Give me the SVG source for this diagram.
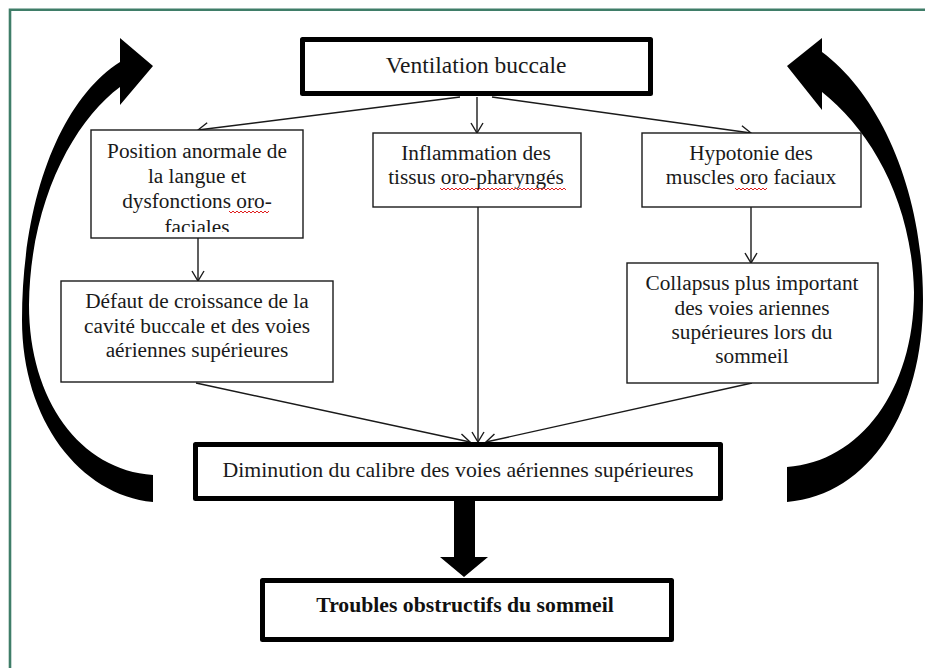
<svg xmlns="http://www.w3.org/2000/svg" width="925" height="668" viewBox="0 0 925 668">
<style>
.thin{fill:#fff;stroke:#1a1a1a;stroke-width:1.4}
.thick{fill:#fff;stroke:#000;stroke-width:5;stroke-linejoin:round}
.t{font-family:"Liberation Serif","Times New Roman",serif;font-size:21.3px;fill:#1a1a1a;text-anchor:middle}
.tb{font-family:"Liberation Serif","Times New Roman",serif;font-size:21.7px;font-weight:bold;fill:#111;text-anchor:middle}
.c{stroke:#1a1a1a;stroke-width:1.4;fill:none}
.sq{stroke:#e02020;stroke-width:1;fill:none}
</style>
<defs>
<marker id="v" markerWidth="12" markerHeight="14" refX="11" refY="7" orient="auto" markerUnits="userSpaceOnUse">
<path d="M1,1 L11,7 L1,13" fill="none" stroke="#1a1a1a" stroke-width="1.4"/>
</marker>
<clipPath id="clipPos"><rect x="92" y="131" width="210" height="101"/></clipPath>
</defs>
<rect width="925" height="668" fill="#fff"/>
<g id="frame" stroke="#3f7d68" stroke-width="2.6" fill="none">
<path d="M10,668 L10,9.7 L925,9.7"/>
</g>
<g id="cycle-arrows" fill="#000">
<path d="M153,502 C80,495 22,420 22,320 C22,200 60,100 120,62 L120,38 L153,66 L120,105 L120,87 C75,120 30,200 29,305 C29,400 80,470 153,475 Z"/>
<path d="M787,502 C870,495 923,410 923,300 C923,190 880,95 822,52 L822,38 L787,66 L822,110 L822,92 C870,130 912,200 914,292 C914,390 860,462 787,467 Z"/>
</g>
<g id="connectors">
<line class="c" x1="460" y1="97" x2="198" y2="130" marker-end="url(#v)"/>
<line class="c" x1="477" y1="97" x2="477" y2="133" marker-end="url(#v)"/>
<line class="c" x1="492" y1="97" x2="751" y2="133" marker-end="url(#v)"/>
<line class="c" x1="198" y1="238" x2="198" y2="281" marker-end="url(#v)"/>
<line class="c" x1="751" y1="207" x2="751" y2="263" marker-end="url(#v)"/>
<line class="c" x1="196" y1="383" x2="470" y2="442" marker-end="url(#v)"/>
<line class="c" x1="478" y1="207" x2="478" y2="442" marker-end="url(#v)"/>
<line class="c" x1="752" y1="383" x2="486" y2="442" marker-end="url(#v)"/>
<path id="big-down" d="M454,500 L475,500 L475,557 L488,557 L464,577 L440,557 L454,557 Z" fill="#000"/>
</g>
<g id="n-ventilation">
<rect class="thick" x="302.5" y="39.5" width="348" height="54"/>
<text class="t" x="476" y="73" style="font-size:23.5px">Ventilation buccale</text>
</g>
<g id="n-position">
<rect class="thin" x="91" y="130" width="212" height="108"/>
<g clip-path="url(#clipPos)">
<text class="t" x="197" y="158">Position anormale de</text>
<text class="t" x="197" y="183">la langue et</text>
<text class="t" x="197" y="208">dysfonctions oro-</text>
<text class="t" x="197" y="234">faciales</text>
</g>
<path class="sq" d="M229,211 l2,2 l2,-2 l2,2 l2,-2 l2,2 l2,-2 l2,2 l2,-2 l2,2 l2,-2 l2,2 l2,-2 l2,2 l2,-2 l2,2 l2,-2 l2,2 l2,-2 l2,2 l2,-2"/>
</g>
<g id="n-inflammation">
<rect class="thin" x="373" y="133" width="208" height="74"/>
<text class="t" x="476" y="160">Inflammation des</text>
<text class="t" x="476" y="184">tissus oro-pharyngés</text>
<path class="sq" d="M440,188 l2,2 l2,-2 l2,2 l2,-2 l2,2 l2,-2 l2,2 l2,-2 l2,2 l2,-2 l2,2 l2,-2 l2,2 l2,-2 l2,2 l2,-2 l2,2 l2,-2 l2,2 l2,-2 l2,2 l2,-2 l2,2 l2,-2 l2,2 l2,-2 l2,2 l2,-2 l2,2 l2,-2 l2,2 l2,-2 l2,2 l2,-2 l2,2 l2,-2 l2,2 l2,-2 l2,2 l2,-2 l2,2 l2,-2 l2,2 l2,-2 l2,2 l2,-2 l2,2 l2,-2 l2,2 l2,-2 l2,2 l2,-2 l2,2 l2,-2 l2,2 l2,-2 l2,2 l2,-2 l2,2 l2,-2 l2,2 l2,-2 l2,2"/>
</g>
<g id="n-hypotonie">
<rect class="thin" x="642" y="133" width="219" height="74"/>
<text class="t" x="751" y="160">Hypotonie des</text>
<text class="t" x="751" y="184">muscles oro faciaux</text>
<path class="sq" d="M735,188 l2,2 l2,-2 l2,2 l2,-2 l2,2 l2,-2 l2,2 l2,-2 l2,2 l2,-2 l2,2 l2,-2 l2,2 l2,-2 l2,2 l2,-2"/>
</g>
<g id="n-defaut">
<rect class="thin" x="61" y="281" width="272" height="101"/>
<text class="t" x="197" y="308">Défaut de croissance de la</text>
<text class="t" x="197" y="333">cavité buccale et des voies</text>
<text class="t" x="197" y="357">aériennes supérieures</text>
</g>
<g id="n-collapsus">
<rect class="thin" x="627" y="263" width="251" height="120"/>
<text class="t" x="752" y="290">Collapsus plus important</text>
<text class="t" x="752" y="315">des voies ariennes</text>
<text class="t" x="752" y="339">supérieures lors du</text>
<text class="t" x="752" y="363">sommeil</text>
</g>
<g id="n-diminution">
<rect class="thick" x="195.5" y="444.5" width="525" height="54"/>
<text class="t" x="458" y="477" style="font-size:21.8px">Diminution du calibre des voies aériennes supérieures</text>
</g>
<g id="n-troubles">
<rect class="thick" x="262.5" y="580.5" width="409" height="59"/>
<text class="tb" x="465" y="612">Troubles obstructifs du sommeil</text>
</g>
</svg>
